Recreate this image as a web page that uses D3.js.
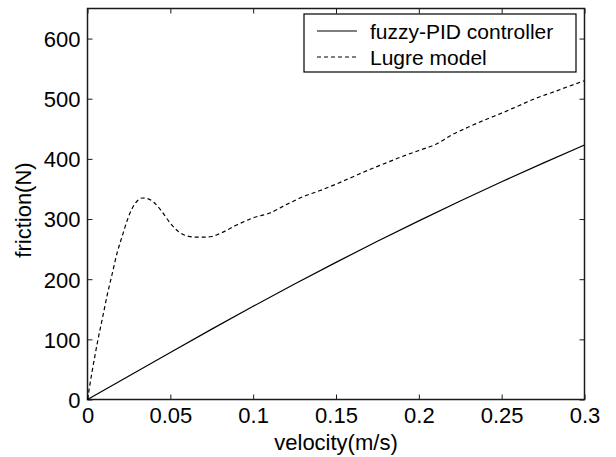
<!DOCTYPE html>
<html><head><meta charset="utf-8">
<script src="https://cdn.jsdelivr.net/npm/d3@7"></script>
<style>
body{margin:0;background:#fff;}
text{font-family:"Liberation Sans",Arial,sans-serif;fill:#000;}
</style></head>
<body><svg id="c" width="616" height="457"></svg>
<script>
const xTicks=[0,0.05,0.1,0.15,0.2,0.25,0.3];
const yTicks=[0,100,200,300,400,500,600];
const seriesNames=["fuzzy-PID controller","Lugre model"];
const pidV=[0,0.025,0.05,0.075,0.1,0.125,0.15,0.175,0.2,0.225,0.25,0.275,0.3];
const pidF=[0,39,78,117,155,192,228,263,297,330,362,393,423];
const lugreV=[0,0.003,0.006,0.009,0.012,0.015,0.018,0.021,0.024,0.027,0.03,0.033,0.036,0.04,0.045,0.05,0.055,0.06,0.065,0.07,0.075,0.08,0.09,0.1,0.11,0.12,0.13,0.14,0.15,0.16,0.17,0.18,0.19,0.2,0.21,0.22,0.23,0.24,0.25,0.26,0.27,0.28,0.29,0.3];
const lugreF=[0,50,95,135,175,210,245,272,298,318,330,335,334,328,312,293,279,272,270,270,271,276,290,302,310,324,337,347,358,370,382,393,404,414,424,440,453,465,476,488,500,510,520,530];

const svg=d3.select("#c");
const L=87.5,R=584.5,T=8.5,B=399.5;
const x=d3.scaleLinear().domain([0,0.3]).range([L,R]);
const y=d3.scaleLinear().domain([0,650]).range([B,T]);
const fmt=d3.format("~g");
const ax="#1a1a1a";

function styleAxis(g){g.select(".domain").remove();g.selectAll("line").attr("stroke",ax).attr("stroke-width",1);}
// bottom
svg.append("g").attr("transform",`translate(0,${B})`)
 .call(d3.axisBottom(x).tickValues(xTicks).tickFormat(fmt).tickSizeInner(-5).tickPadding(8))
 .call(styleAxis).call(g=>g.selectAll("text").attr("font-size",22).attr("font-family","Liberation Sans, Arial").attr("fill","#000"));
// top
svg.append("g").attr("transform",`translate(0,${T})`)
 .call(d3.axisTop(x).tickValues(xTicks).tickFormat("").tickSizeInner(-5)).call(styleAxis);
// left
svg.append("g").attr("transform",`translate(${L},0)`)
 .call(d3.axisLeft(y).tickValues(yTicks).tickFormat(fmt).tickSizeInner(-5).tickPadding(7))
 .call(styleAxis).call(g=>g.selectAll("text").attr("font-size",22).attr("font-family","Liberation Sans, Arial").attr("fill","#000").attr("dy","0.36em"));
// right
svg.append("g").attr("transform",`translate(${R},0)`)
 .call(d3.axisRight(y).tickValues(yTicks).tickFormat("").tickSizeInner(-5)).call(styleAxis);
// frame
svg.append("rect").attr("x",L).attr("y",T).attr("width",R-L).attr("height",B-T)
 .attr("fill","none").attr("stroke",ax).attr("stroke-width",1.5);

const line=d3.line().x(d=>x(d[0])).y(d=>y(d[1]));
svg.append("path").datum(pidV.map((v,i)=>[v,pidF[i]])).attr("d",line)
 .attr("fill","none").attr("stroke","#000").attr("stroke-width",1.2);
svg.append("path").datum(lugreV.map((v,i)=>[v,lugreF[i]])).attr("d",line.curve(d3.curveMonotoneX))
 .attr("fill","none").attr("stroke","#000").attr("stroke-width",1.2).attr("stroke-dasharray","4,3");

// axis labels
svg.append("text").attr("x",(L+R)/2).attr("y",450).attr("text-anchor","middle").attr("font-size",22).text("velocity(m/s)");
svg.append("text").attr("transform","translate(31,210) rotate(-90)").attr("text-anchor","middle").attr("font-size",22).text("friction(N)");

// legend
const lg=svg.append("g");
lg.append("rect").attr("x",304).attr("y",14).attr("width",272).attr("height",58).attr("fill","#fff").attr("stroke","#000").attr("stroke-width",1.2);
const rows=[{y:31,dash:null},{y:57,dash:"4,3"}];
rows.forEach((r,i)=>{
  const l=lg.append("line").attr("x1",317).attr("x2",357).attr("y1",r.y).attr("y2",r.y).attr("stroke","#000").attr("stroke-width",1.2);
  if(r.dash)l.attr("stroke-dasharray",r.dash);
  lg.append("text").attr("x",370).attr("y",r.y+7.5).attr("font-size",21).text(seriesNames[i]);
});
</script></body></html>
